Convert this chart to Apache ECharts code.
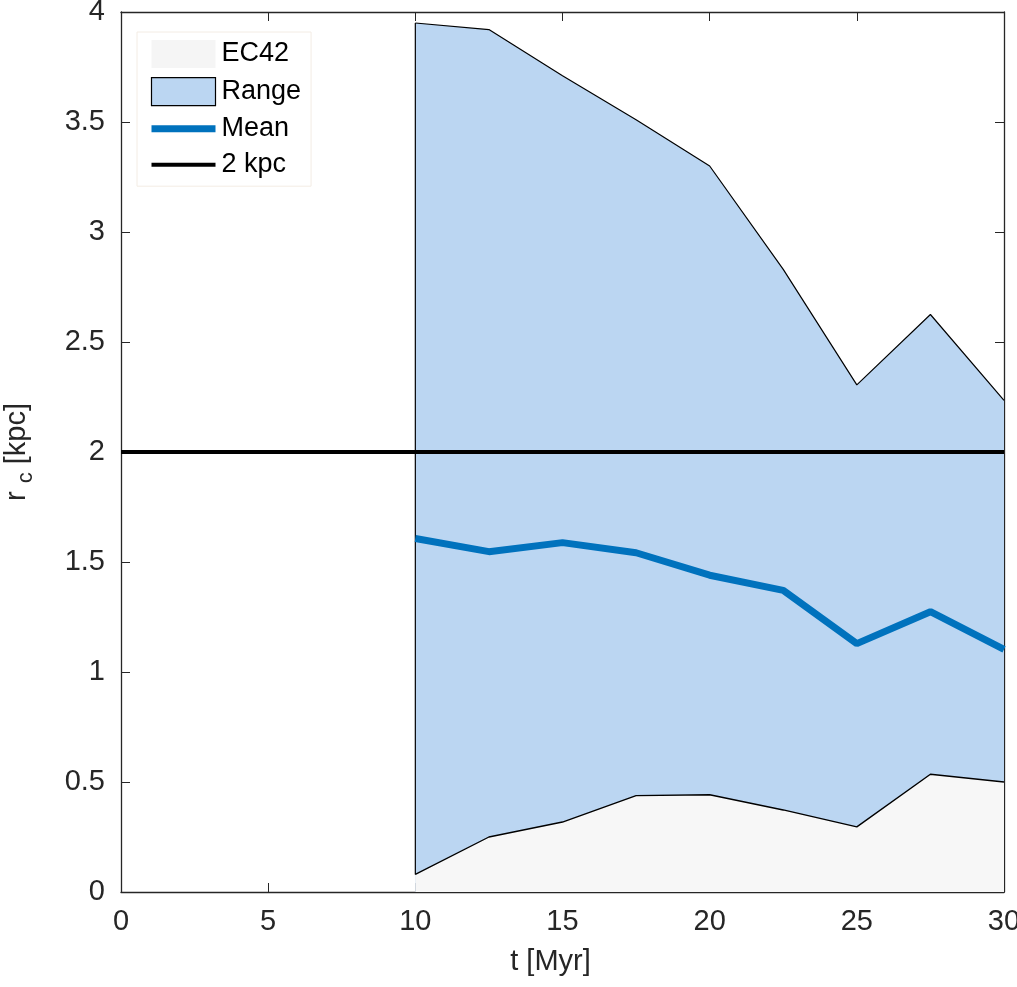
<!DOCTYPE html>
<html>
<head>
<meta charset="utf-8">
<script src="https://cdn.jsdelivr.net/npm/echarts@6/dist/echarts.min.js"></script>
<style>
  html, body { margin: 0; padding: 0; background: #fff; }
  #chart { width: 1017px; height: 987px; }
</style>
</head>
<body>
<div id="chart"></div>
<script>
// time steps [Myr]
var tMyr = [10, 12.5, 15, 17.5, 20, 22.5, 25, 27.5, 30];
// range of r_c over the runs
var rcUpper = [3.95, 3.92, 3.71, 3.51, 3.30, 2.83, 2.305, 2.625, 2.235];
var rcLower = [0.08, 0.25, 0.318, 0.438, 0.442, 0.373, 0.296, 0.535, 0.50];
var rcMean = [1.607, 1.547, 1.588, 1.542, 1.44, 1.371, 1.129, 1.274, 1.103];
// reference line
var refX = [0, 30];
var refY = 2;

var yTicks = [0, 0.5, 1, 1.5, 2, 2.5, 3, 3.5, 4];

function pairs(xs, ys) {
  return xs.map(function (x, i) { return [x, ys[i]]; });
}

var axisCol = "#262626";
var font = "Liberation Sans";

// box axis (no labels) for top/right sides
function boxLine() {
  return { show: true, onZero: false, lineStyle: { color: axisCol, width: 1.3 } };
}
function boxTick() {
  return { show: true, inside: true, length: 9, lineStyle: { color: axisCol } };
}

var myChart = echarts.init(document.getElementById("chart"));
var option = {
  animation: false,
  backgroundColor: "#fff",
  textStyle: { fontFamily: font },
  grid: { left: 121, right: 13, top: 12, bottom: 95, outerBoundsMode: "none", containLabel: false },
  legend: {
    orient: "vertical",
    left: 137,
    top: 32,
    padding: [8, 10, 8, 11],
    itemWidth: 64,
    itemHeight: 28,
    itemGap: 9,
    backgroundColor: "#fff",
    borderColor: "#f3ece4",
    borderWidth: 1,
    selectedMode: false,
    textStyle: { fontSize: 27, color: "#000", fontFamily: font, padding: [0, 0, 0, 1] },
    data: [
      { name: "EC42", icon: "rect", itemStyle: { color: "#f5f5f5", borderWidth: 0 } },
      { name: "Range", icon: "rect", itemStyle: { color: "#bbd6f2", borderColor: "#000", borderWidth: 1.2 } },
      { name: "Mean", itemStyle: { opacity: 0 }, lineStyle: { color: "#0072bd", width: 7 } },
      { name: "2 kpc", itemStyle: { opacity: 0 }, lineStyle: { color: "#000", width: 4 } }
    ]
  },
  xAxis: [
    {
      type: "value", min: 0, max: 30, interval: 5,
      name: "t [Myr]", nameLocation: "middle", nameGap: 55,
      nameTextStyle: { fontSize: 29, color: axisCol, fontFamily: font, padding: [0, 24, 0, 0] },
      axisLine: boxLine(),
      axisTick: boxTick(),
      axisLabel: { fontSize: 29, color: axisCol, margin: 15, fontFamily: font },
      splitLine: { show: false }
    },
    {
      type: "value", min: 0, max: 30, interval: 5, position: "top",
      axisLine: boxLine(),
      axisTick: boxTick(),
      axisLabel: { show: false },
      splitLine: { show: false }
    }
  ],
  yAxis: [
    {
      type: "value", min: 0, max: 4, interval: 0.5,
      name: "r {sub|c} [kpc]", nameLocation: "middle", nameGap: 84,
      nameTextStyle: {
        fontSize: 29, color: axisCol, fontFamily: font,
        rich: { sub: { fontSize: 22, color: axisCol, fontFamily: font, verticalAlign: "bottom", lineHeight: 40 } }
      },
      axisLine: boxLine(),
      axisTick: boxTick(),
      axisLabel: {
        fontSize: 29, color: axisCol, margin: 16, fontFamily: font,
        formatter: function (v) { return yTicks.indexOf(v) >= 0 ? String(v) : ""; }
      },
      splitLine: { show: false }
    },
    {
      type: "value", min: 0, max: 4, interval: 0.5, position: "right",
      axisLine: boxLine(),
      axisTick: boxTick(),
      axisLabel: { show: false },
      splitLine: { show: false }
    }
  ],
  series: [
    {
      name: "Range",
      type: "line",
      data: pairs(tMyr, rcUpper),
      symbol: "none",
      silent: true,
      lineStyle: { color: "#000", width: 1.2 },
      itemStyle: { color: "#bbd6f2" },
      areaStyle: { color: "#bbd6f2", opacity: 1 }
    },
    {
      name: "EC42",
      type: "line",
      data: pairs(tMyr, rcLower),
      symbol: "none",
      silent: true,
      lineStyle: { color: "#000", width: 1.4 },
      itemStyle: { color: "#f5f5f5" },
      areaStyle: { color: "#f7f7f7", opacity: 1 }
    },
    {
      name: "rangeEdge",
      type: "line",
      data: [[tMyr[0], rcLower[0]], [tMyr[0], rcUpper[0]]],
      symbol: "none",
      silent: true,
      lineStyle: { color: "#000", width: 1.2 }
    },
    {
      name: "2 kpc",
      type: "line",
      data: refX.map(function (x) { return [x, refY]; }),
      symbol: "none",
      silent: true,
      lineStyle: { color: "#000", width: 4 },
      itemStyle: { color: "#000" }
    },
    {
      name: "Mean",
      type: "line",
      data: pairs(tMyr, rcMean),
      symbol: "none",
      silent: true,
      clip: false,
      lineStyle: { color: "#0072bd", width: 7 },
      itemStyle: { color: "#0072bd" }
    }
  ]
};
myChart.setOption(option);
</script>
</body>
</html>
